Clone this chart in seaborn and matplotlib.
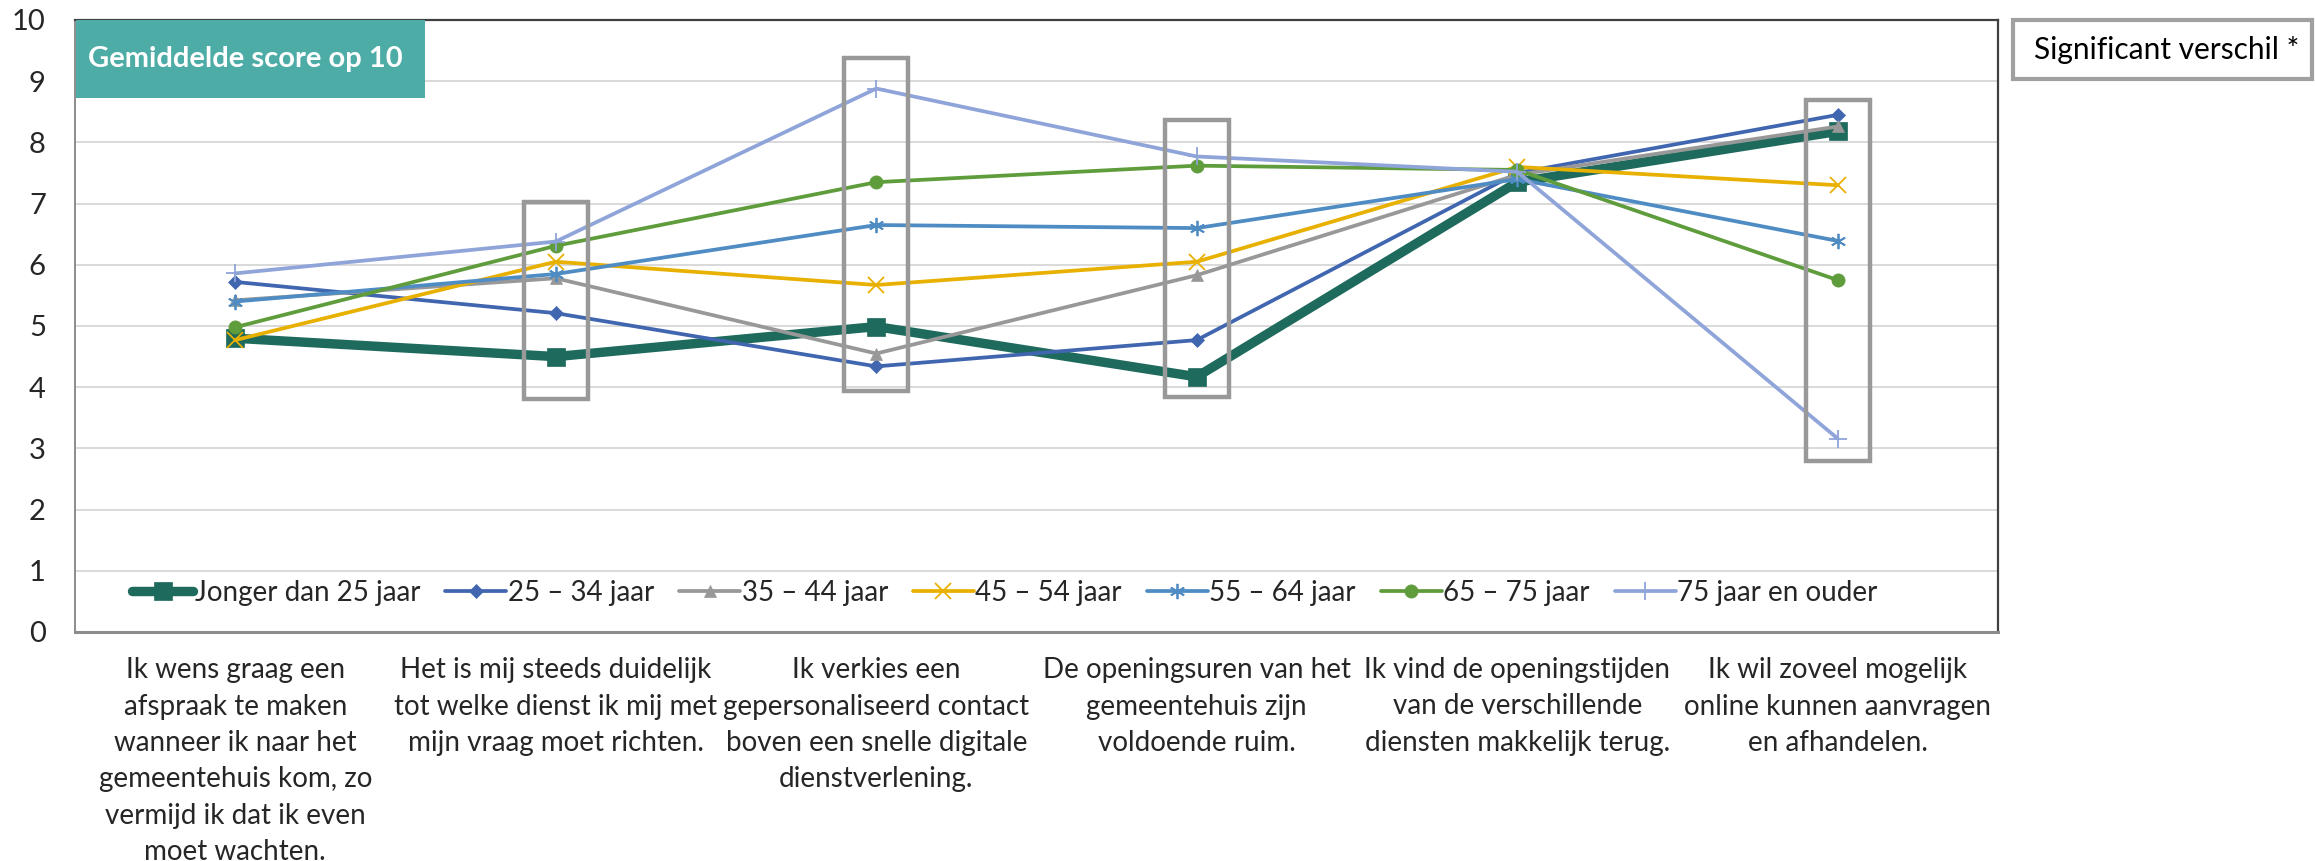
import matplotlib

matplotlib.use("Agg")
import matplotlib.pyplot as plt
import numpy as np
import pandas as pd
import seaborn as sns
from matplotlib.patches import Rectangle

# categorieen (x-as)
CATEGORIES = [
    "Ik wens graag een\nafspraak te maken\nwanneer ik naar het\ngemeentehuis kom, zo\nvermijd ik dat ik even\nmoet wachten.",
    "Het is mij steeds duidelijk\ntot welke dienst ik mij met\nmijn vraag moet richten.",
    "Ik verkies een\ngepersonaliseerd contact\nboven een snelle digitale\ndienstverlening.",
    "De openingsuren van het\ngemeentehuis zijn\nvoldoende ruim.",
    "Ik vind de openingstijden\nvan de verschillende\ndiensten makkelijk terug.",
    "Ik wil zoveel mogelijk\nonline kunnen aanvragen\nen afhandelen.",
]

GROUPS = [
    "Jonger dan 25 jaar",
    "25 – 34 jaar",
    "35 – 44 jaar",
    "45 – 54 jaar",
    "55 – 64 jaar",
    "65 – 75 jaar",
    "75 jaar en ouder",
]

jonger_25 = [4.80, 4.50, 4.99, 4.17, 7.35, 8.18]
jaar_25_34 = [5.72, 5.21, 4.34, 4.77, 7.50, 8.45]
jaar_35_44 = [5.42, 5.78, 4.55, 5.83, 7.47, 8.26]
jaar_45_54 = [4.77, 6.05, 5.67, 6.05, 7.60, 7.30]
jaar_55_64 = [5.40, 5.85, 6.65, 6.60, 7.40, 6.39]
jaar_65_75 = [4.98, 6.31, 7.35, 7.62, 7.55, 5.75]
jaar_75_plus = [5.86, 6.38, 8.88, 7.77, 7.52, 3.16]

# significant verschil: categorie-index en bereik van het kader
SIG_CATS = [1, 2, 3, 5]
SIG_LOW = [3.80, 3.94, 3.84, 2.80]
SIG_HIGH = [7.03, 9.38, 8.37, 8.70]

series = [jonger_25, jaar_25_34, jaar_35_44, jaar_45_54, jaar_55_64, jaar_65_75, jaar_75_plus]
COLORS = ["#1E6A5C", "#4166B0", "#989898", "#E8B000", "#4F8CC3", "#5F9C3C", "#8FA4D8"]
MARKERS = ["s", "D", "^", "x", (6, 2, 0), "o", "+"]
MSIZES = [12.5, 7.5, 9, 11, 11, 9.5, 13]
LWIDTHS = [6.8, 2.7, 2.7, 2.7, 2.7, 2.7, 2.7]

df = pd.DataFrame(
    [(g, i, v) for g, vals in zip(GROUPS, series) for i, v in enumerate(vals)],
    columns=["groep", "pos", "score"],
)

sns.set_theme(style="white")
plt.rcParams["font.family"] = ["Lato", "DejaVu Sans"]

W, H = 2315, 861
fig = plt.figure(figsize=(W / 100, H / 100), dpi=100)
ax = fig.add_axes([75 / W, 1 - 632 / H, 1923 / W, 612 / H])

ax.yaxis.grid(True, color="#D9D9D9", lw=1.4)
ax.set_axisbelow(True)

for k, g in enumerate(GROUPS):
    sub = df[df["groep"] == g]
    sns.lineplot(
        data=sub, x="pos", y="score", ax=ax, color=COLORS[k],
        marker=MARKERS[k], markersize=MSIZES[k], lw=LWIDTHS[k],
        markeredgecolor=COLORS[k], markeredgewidth=1.3 if k in (3, 4, 6) else 0.5,
        label=g, zorder=3 + k,
    )

for c, lo, hi in zip(SIG_CATS, SIG_LOW, SIG_HIGH):
    ax.add_patch(Rectangle((c - 0.1, lo), 0.2, hi - lo, fill=False,
                           edgecolor="#999999", lw=3.2, zorder=20))

ax.set_xlim(-0.5, len(CATEGORIES) - 0.5)
ax.set_ylim(0, 10)
ax.set_yticks(range(0, 11))
ax.set_xticks(range(len(CATEGORIES)))
ax.set_xticklabels(CATEGORIES, fontsize=20, linespacing=1.5, va="top")
ax.tick_params(axis="x", length=0, pad=18)
ax.tick_params(axis="y", length=0, pad=21, labelsize=21)
ax.set_xlabel("")
ax.set_ylabel("")

for side in ["top", "right"]:
    ax.spines[side].set_color("#404040")
    ax.spines[side].set_linewidth(1.6)
ax.spines["left"].set_color("#8C8C8C")
ax.spines["left"].set_linewidth(1.4)
ax.spines["bottom"].set_color("#8C8C8C")
ax.spines["bottom"].set_linewidth(2.2)

ax.legend(
    loc="center left", bbox_to_anchor=(0.024, 0.064), ncol=7, frameon=False,
    fontsize=20, handlelength=2.2, handletextpad=0.05, columnspacing=0.9,
    borderaxespad=0,
)

# titelvak linksboven in de grafiek
ax.add_patch(Rectangle((0.0005, 0.8725), 0.1815, 0.127, transform=ax.transAxes,
                       facecolor="#4EACA6", edgecolor="none", zorder=30))
ax.text(0.0068, 0.937, "Gemiddelde score op 10", transform=ax.transAxes,
        ha="left", va="center", fontsize=21, fontweight="bold", color="white",
        zorder=31)

# kader significant verschil
fig.patches.append(Rectangle((2013 / W, 1 - 79 / H), 299 / W, 59 / H,
                             transform=fig.transFigure, fill=False,
                             edgecolor="#A0A0A0", lw=3))
fig.text(2034 / W, 1 - 50 / H, "Significant verschil *", ha="left", va="center",
         fontsize=21.5, color="black")

fig.savefig("out.png", dpi=100)
